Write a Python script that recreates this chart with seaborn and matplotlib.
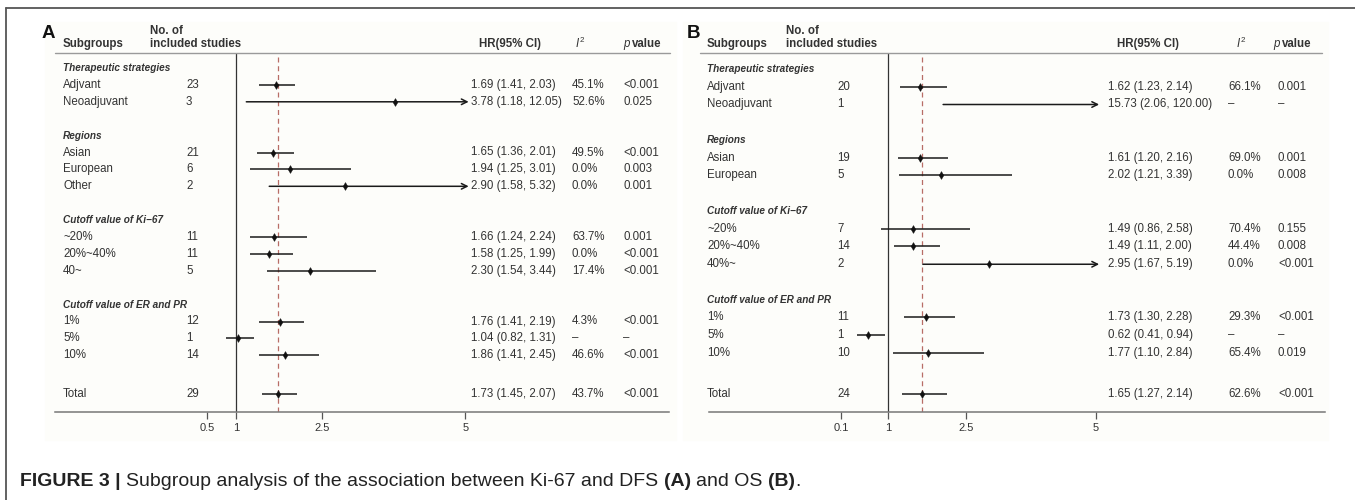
import matplotlib
matplotlib.use("Agg")
import matplotlib.pyplot as plt
import matplotlib.transforms as mtransforms
from matplotlib.lines import Line2D
from matplotlib.patches import Rectangle
import seaborn as sns
import pandas as pd

W, H = 1355, 500

# ---- panel A: Ki-67 and DFS ----
a_groups = ["Therapeutic strategies", "Regions", "Cutoff value of Ki\u221267", "Cutoff value of ER and PR"]
a_labels = [["Adjvant", "Neoadjuvant"], ["Asian", "European", "Other"],
            ["~20%", "20%~40%", "40~"], ["1%", "5%", "10%"]]
a_n = [23, 3, 21, 6, 2, 11, 11, 5, 12, 1, 14]
a_hr = [1.69, 3.78, 1.65, 1.94, 2.90, 1.66, 1.58, 2.30, 1.76, 1.04, 1.86]
a_lo = [1.41, 1.18, 1.36, 1.25, 1.58, 1.24, 1.25, 1.54, 1.41, 0.82, 1.41]
a_hi = [2.03, 12.05, 2.01, 3.01, 5.32, 2.24, 1.99, 3.44, 2.19, 1.31, 2.45]
a_i2 = ["45.1%", "52.6%", "49.5%", "0.0%", "0.0%", "63.7%", "0.0%", "17.4%", "4.3%", "\u2013", "46.6%"]
a_p = ["<0.001", "0.025", "<0.001", "0.003", "0.001", "0.001", "<0.001", "<0.001", "<0.001", "\u2013", "<0.001"]
a_total = [29, 1.73, 1.45, 2.07, "43.7%", "<0.001"]
a_ticks = [0.5, 1, 2.5, 5]

# ---- panel B: Ki-67 and OS ----
b_groups = ["Therapeutic strategies", "Regions", "Cutoff value of Ki\u221267", "Cutoff value of ER and PR"]
b_labels = [["Adjvant", "Neoadjuvant"], ["Asian", "European"],
            ["~20%", "20%~40%", "40%~"], ["1%", "5%", "10%"]]
b_n = [20, 1, 19, 5, 7, 14, 2, 11, 1, 10]
b_hr = [1.62, 15.73, 1.61, 2.02, 1.49, 1.49, 2.95, 1.73, 0.62, 1.77]
b_lo = [1.23, 2.06, 1.20, 1.21, 0.86, 1.11, 1.67, 1.30, 0.41, 1.10]
b_hi = [2.14, 120.00, 2.16, 3.39, 2.58, 2.00, 5.19, 2.28, 0.94, 2.84]
b_i2 = ["66.1%", "\u2013", "69.0%", "0.0%", "70.4%", "44.4%", "0.0%", "29.3%", "\u2013", "65.4%"]
b_p = ["0.001", "\u2013", "0.001", "0.008", "0.155", "0.008", "<0.001", "<0.001", "\u2013", "0.019"]
b_total = [24, 1.65, 1.27, 2.14, "62.6%", "<0.001"]
b_ticks = [0.1, 1, 2.5, 5]

CLIP = 5.06
TXT = "#333333"

sns.set_style("white")
plt.rcParams["font.family"] = ["Liberation Sans", "DejaVu Sans"]
plt.rcParams["mathtext.fontset"] = "custom"
plt.rcParams["mathtext.it"] = "Liberation Sans:italic"
plt.rcParams["mathtext.rm"] = "Liberation Sans"


def fx(px):
    return px / W


def fy(py):
    return 1 - py / H


def row_positions(sizes, total_gap=2.3):
    heads, items = [], []
    y = 0
    for k in sizes:
        heads.append(y)
        y += 1
        for _ in range(k):
            items.append(y)
            y += 1
        y += 1
    return heads, items, items[-1] + total_gap


def draw_panel(fig, letter, groups, labels, n, hr, lo, hi, i2, p, total, ticks, lay):
    # faint panel background
    fig.add_artist(Rectangle((fx(lay["bg"][0]), fy(440)), fx(lay["bg"][1] - lay["bg"][0]), 418 / H,
                             transform=fig.transFigure, color="#fdfdfa", zorder=0))

    top, bottom = 53, 412
    ax = fig.add_axes([fx(lay["x0"]), fy(bottom), fx(lay["x1"] - lay["x0"]), (bottom - top) / H])
    ax.set_facecolor("none")

    heads, items, trow = row_positions([len(g) for g in labels])
    flat = [lab for g in labels for lab in g]

    df = pd.DataFrame({"label": flat + ["Total"], "row": items + [trow],
                       "hr": hr + [total[1]], "lo": lo + [total[2]], "hi": hi + [total[3]]})

    # CI lines, arrows where they run past the axis
    for _, r in df.iterrows():
        if r["hi"] > CLIP:
            ax.annotate("", xy=(CLIP, r["row"]), xytext=(r["lo"], r["row"]),
                        arrowprops=dict(arrowstyle="->", lw=1.1, color="#1a1a1a",
                                        shrinkA=0, shrinkB=0, mutation_scale=10))
        else:
            ax.hlines(r["row"], r["lo"], r["hi"], color="#1a1a1a", lw=1.1, zorder=3)

    sns.scatterplot(data=df[df["hr"] <= CLIP], x="hr", y="row", marker="d", s=16,
                    color="#111111", edgecolor="#111111", linewidth=0.3, ax=ax, zorder=4, legend=False)

    ax.axvline(1, color="#333333", lw=0.9, zorder=2)
    ax.axvline(total[1], color="#b86d66", lw=0.9, ls=(0, (4, 3)), zorder=2)

    xl = 1 - (lay["one"] - lay["x0"]) / lay["scale"]
    xr = 1 + (lay["x1"] - lay["one"]) / lay["scale"]
    ax.set_xlim(xl, xr)
    ax.set_ylim((bottom - lay["y0"]) / lay["rh"], (top - lay["y0"]) / lay["rh"])

    for s in ["top", "left", "right"]:
        ax.spines[s].set_visible(False)
    ax.spines["bottom"].set_color("#777777")
    ax.spines["bottom"].set_linewidth(1.1)
    ax.set_yticks([])
    ax.set_xticks(ticks)
    ax.set_xticklabels([f"{t:g}" for t in ticks])
    ax.tick_params(axis="x", bottom=True, direction="out", length=5, width=0.9, color="#555555",
                   labelsize=8, labelcolor=TXT, pad=3)
    ax.set_xlabel("")
    ax.set_ylabel("")

    # header rule
    fig.add_artist(Line2D([fx(lay["rule"][0]), fx(lay["rule"][1])], [fy(53), fy(53)],
                          transform=fig.transFigure, color="#9a9a9a", lw=1.0))

    # headers
    fig.text(fx(lay["letter"]), fy(33), letter, fontsize=13.5, fontweight="bold",
             ha="center", va="center", color="#111111")
    fig.text(fx(lay["lab"]), fy(44), "Subgroups", fontsize=8.3, fontweight="bold", va="center", color=TXT)
    fig.text(fx(lay["no"]), fy(31), "No. of", fontsize=8.3, fontweight="bold", va="center", color=TXT)
    fig.text(fx(lay["no"]), fy(44), "included studies", fontsize=8.3, fontweight="bold", va="center", color=TXT)
    fig.text(fx(lay["h_hr"]), fy(44), "HR(95% CI)", fontsize=8.3, fontweight="bold", va="center", color=TXT)
    fig.text(fx(lay["h_i2"]), fy(43), r"$I^2$", fontsize=8.3, va="center", color=TXT)
    fig.text(fx(lay["h_p"]), fy(44), "p", fontsize=8.3, style="italic", va="center", color=TXT)
    fig.text(fx(lay["h_p"] + 9), fy(44), "value", fontsize=8.3, fontweight="bold", va="center", color=TXT)

    tr = mtransforms.blended_transform_factory(fig.transFigure, ax.transData)
    for g, y in zip(groups, heads):
        ax.text(fx(lay["lab"]), y, g, transform=tr, fontsize=7.2, fontweight="bold",
                style="italic", va="center", color=TXT)

    rows_n = n + [total[0]]
    rows_i2 = i2 + [total[4]]
    rows_p = p + [total[5]]
    for k, r in df.iterrows():
        y = r["row"]
        ax.text(fx(lay["lab"]), y, r["label"], transform=tr, fontsize=8.3, va="center", color=TXT)
        ax.text(fx(lay["n"]), y, str(rows_n[k]), transform=tr, fontsize=8.3, va="center", color=TXT)
        ax.text(fx(lay["hr"]), y, f"{r['hr']:.2f} ({r['lo']:.2f}, {r['hi']:.2f})", transform=tr,
                fontsize=8.3, va="center", color=TXT)
        ax.text(fx(lay["i2"]), y, rows_i2[k], transform=tr, fontsize=8.3, va="center", color=TXT)
        ax.text(fx(lay["p"]), y, rows_p[k], transform=tr, fontsize=8.3, va="center", color=TXT)
    return ax


lay_a = dict(x0=55, x1=669, one=236, scale=57.3, y0=68, rh=16.9, bg=(45, 676),
             rule=(55, 670), letter=48, lab=63, no=150, n=186, hr=471, i2=572, p=623,
             h_hr=479, h_i2=575, h_p=623)
lay_b = dict(x0=709, x1=1325, one=888, scale=52.0, y0=69, rh=17.75, bg=(683, 1328),
             rule=(700, 1322), letter=694, lab=707, no=786, n=837, hr=1108, i2=1228, p=1278,
             h_hr=1117, h_i2=1236, h_p=1273)

fig = plt.figure(figsize=(W / 100, H / 100), dpi=100)
fig.patch.set_facecolor("white")

draw_panel(fig, "A", a_groups, a_labels, a_n, a_hr, a_lo, a_hi, a_i2, a_p, a_total, a_ticks, lay_a)
draw_panel(fig, "B", b_groups, b_labels, b_n, b_hr, b_lo, b_hi, b_i2, b_p, b_total, b_ticks, lay_b)

# outer frame (top and left edges visible)
fig.add_artist(Line2D([fx(6), 1], [fy(8), fy(8)], transform=fig.transFigure, color="#555555", lw=1.3))
fig.add_artist(Line2D([fx(6), fx(6)], [fy(8), 0], transform=fig.transFigure, color="#555555", lw=1.3))

# caption with mixed weights
renderer = fig.canvas.get_renderer()
pieces = [("FIGURE 3 |", "bold"), ("Subgroup analysis of the association between Ki-67 and DFS", "normal"),
          ("(A)", "bold"), ("and OS", "normal"), ("(B)", "bold"), (".", "normal")]
x = 20
for i, (txt, wt) in enumerate(pieces):
    t = fig.text(fx(x), fy(482), txt, fontsize=14, fontweight=wt, va="center", color="#222222")
    x += t.get_window_extent(renderer).width
    if i < len(pieces) - 2:
        x += 5.4

fig.savefig("out.png", dpi=100)
